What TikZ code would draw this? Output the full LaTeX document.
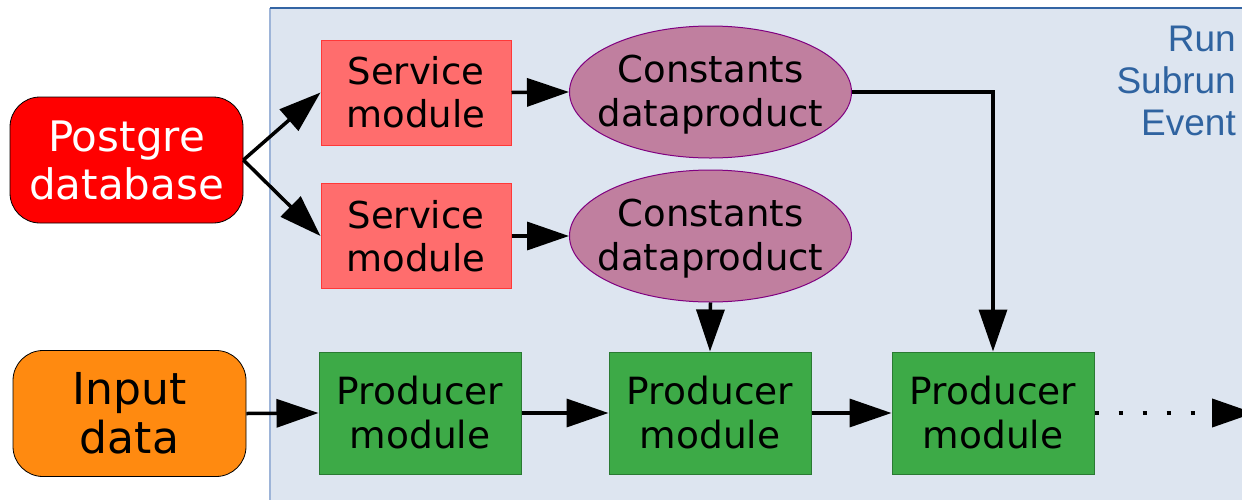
\documentclass[tikz,border=0pt]{standalone}
\usepackage{fontspec}
\setmainfont{DejaVu Sans}
\newfontfamily\levelfont{Liberation Sans}
\usetikzlibrary{arrows.meta,shapes.geometric}
\definecolor{panelfill}{HTML}{DDE5F0}
\definecolor{paneltop}{HTML}{3465A4}
\definecolor{panelleft}{HTML}{9DB4D8}
\definecolor{dbred}{HTML}{FF0000}
\definecolor{inorange}{HTML}{FF8A10}
\definecolor{svcfill}{HTML}{FF6D6D}
\definecolor{svcdraw}{HTML}{FF3838}
\definecolor{cstfill}{HTML}{C07F9F}
\definecolor{cstdraw}{HTML}{800080}
\definecolor{prodfill}{HTML}{3DAA47}
\definecolor{proddraw}{HTML}{2A7A33}
\definecolor{leveltext}{HTML}{2F63A0}
\tikzset{
  source/.style={rounded corners=30pt, draw=black, line width=0.8pt,
    minimum width=233pt, minimum height=126pt, inner sep=0pt, align=center},
  service/.style={rectangle, fill=svcfill, draw=svcdraw, line width=1pt,
    minimum width=190pt, minimum height=105pt, inner sep=0pt, align=center,
    font=\fontsize{37}{43}\selectfont},
  constants/.style={ellipse, fill=cstfill, draw=cstdraw, line width=1pt,
    inner xsep=-15pt, inner ysep=0pt, text depth=3pt,
    minimum width=282pt, minimum height=132pt, align=center,
    font=\fontsize{37}{44}\selectfont},
  producer/.style={rectangle, fill=prodfill, draw=proddraw, line width=1pt,
    minimum width=202pt, minimum height=122pt, inner sep=0pt, align=center,
    font=\fontsize{37.5}{44}\selectfont},
  flow/.style={line width=3.5pt, -{Triangle[length=42pt,width=28pt]}},
}
\begin{document}
\begin{tikzpicture}[x=1pt,y=-1pt]
\useasboundingbox (0,0) rectangle (1242,499);
% processing area
\fill[panelfill] (270,8) rectangle (1260,510);
\draw[panelleft, line width=1.5pt] (270,510) -- (270,8);
\draw[paneltop, line width=1.5pt] (270,8) -- (1260,8);
\node[align=right, anchor=north east, inner sep=0pt,
  text=leveltext, font=\levelfont\fontsize{37}{42}\selectfont] (levels)
  at (1236,26) {Run\\Subrun\\Event};
% sources
\node[source, fill=dbred, text=white, font=\fontsize{42}{48}\selectfont]
  (pg) at (126.5,160) {Postgre\\database};
\node[source, fill=inorange, font=\fontsize{44}{49}\selectfont]
  (input) at (129.5,413.5) {Input\\data};
% services and their data products
\node[service] (s1) at (416,92.5) {Service\\module};
\node[service] (s2) at (416,236) {Service\\module};
\node[constants] (c1) at (710.5,92) {Constants\\dataproduct};
\node[constants] (c2) at (710.5,236) {Constants\\dataproduct};
% producer chain
\node[producer] (p1) at (420,413) {Producer\\module};
\node[producer] (p2) at (710,413) {Producer\\module};
\node[producer] (p3) at (993,413) {Producer\\module};
\coordinate (more) at (1254,413);
% connectors
\draw[flow] (pg.east) -- (s1.west);
\draw[flow] (pg.east) -- (s2.west);
\draw[flow] (s1.east) -- (c1.west);
\draw[flow] (s2.east) -- (c2.west);
\draw[flow] (c1.east) -| (p3.north);
\draw[flow] (c2.south) -- (p2.north);
\draw[flow] (input.east) -- (p1.west);
\draw[flow] (p1.east) -- (p2.west);
\draw[flow] (p2.east) -- (p3.west);
\draw[line width=4pt, dash pattern=on 4pt off 20pt, -{Triangle[length=42pt,width=28pt]}]
  (p3.east) -- (more);
\end{tikzpicture}
\end{document}
